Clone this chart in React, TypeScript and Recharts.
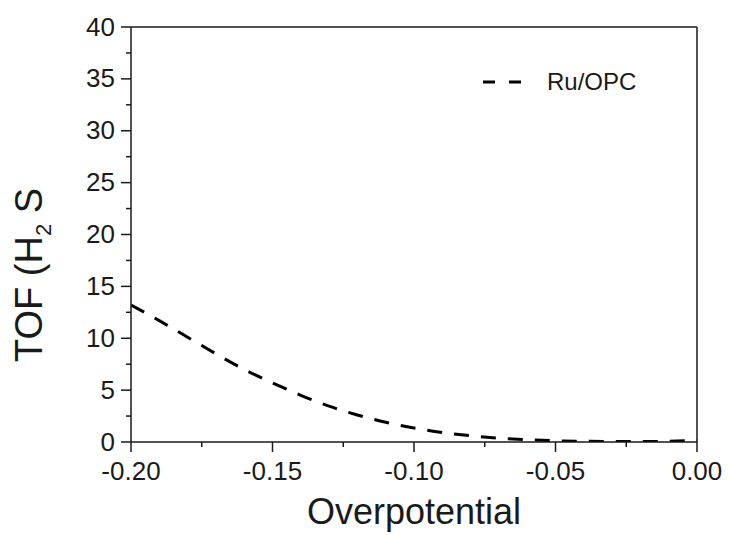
import { LineChart, Line, XAxis, YAxis, Legend, ReferenceLine } from 'recharts';

const FONT = '"Liberation Sans", Arial, sans-serif';
const INK = '#1a1a1a';

// overpotential (V) and TOF
const overpotential = [
  -0.2, -0.19, -0.18, -0.17, -0.16, -0.15, -0.14, -0.13, -0.12, -0.11, -0.1,
  -0.09, -0.08, -0.07, -0.06, -0.05, -0.04, -0.03, -0.02, -0.01, 0,
];
const tofRuOPC = [
  13.2, 11.7, 10.1, 8.5, 7.0, 5.7, 4.5, 3.45, 2.6, 1.9, 1.35,
  0.92, 0.6, 0.37, 0.22, 0.12, 0.07, 0.05, 0.05, 0.07, 0.15,
];

const xTicks = [-0.2, -0.175, -0.15, -0.125, -0.1, -0.075, -0.05, -0.025, 0];
const xLabels = ['-0.20', '', '-0.15', '', '-0.10', '', '-0.05', '', '0.00'];
const yTicks = [0, 2.5, 5, 7.5, 10, 12.5, 15, 17.5, 20, 22.5, 25, 27.5, 30, 32.5, 35, 37.5, 40];
const yLabels = ['0', '', '5', '', '10', '', '15', '', '20', '', '25', '', '30', '', '35', '', '40'];

const data = overpotential.map((x, i) => ({ x, tof: tofRuOPC[i] }));

function XTick(props: any) {
  const { x, y, index } = props;
  const label = xLabels[index];
  const major = label !== '';
  return (
    <g>
      <line x1={x} x2={x} y1={y} y2={y + (major ? 10 : 5)} stroke={INK} strokeWidth={1.5} />
      {major && (
        <text x={x} y={y + 38} textAnchor="middle" fontSize={26} fontFamily={FONT} fill={INK}>
          {label}
        </text>
      )}
    </g>
  );
}

function YTick(props: any) {
  const { x, y, index } = props;
  const label = yLabels[index];
  const major = label !== '';
  return (
    <g>
      <line x1={x - (major ? 10 : 5)} x2={x} y1={y} y2={y} stroke={INK} strokeWidth={1.5} />
      {major && (
        <text x={x - 16} y={y} dy="0.33em" textAnchor="end" fontSize={26} fontFamily={FONT} fill={INK}>
          {label}
        </text>
      )}
    </g>
  );
}

function LegendBox() {
  return (
    <svg width={170} height={36}>
      <line x1={8} x2={56} y1={18} y2={18} stroke="#000" strokeWidth={3} strokeDasharray="12 14" />
      <text x={72} y={18} dy="0.35em" fontSize={24} fontFamily={FONT} fill={INK}>
        Ru/OPC
      </text>
    </svg>
  );
}

export default function App() {
  return (
    <div style={{ position: 'absolute', left: 0, top: 0, background: '#fff' }}>
      <LineChart width={729} height={535} data={data} margin={{ top: 27, right: 32, left: 0, bottom: 0 }}>
        <XAxis
          dataKey="x"
          type="number"
          domain={[-0.2, 0]}
          ticks={xTicks}
          interval={0}
          tickSize={0}
          tickMargin={0}
          tickLine={false}
          tick={<XTick />}
          height={93}
          axisLine={{ stroke: INK, strokeWidth: 1.5 }}
          allowDataOverflow
          label={{
            content: (p: any) => {
              const vb = p.viewBox;
              return (
                <text x={vb.x + vb.width / 2} y={vb.y + 82} textAnchor="middle" fontSize={36} fontFamily={FONT} fill={INK}>
                  Overpotential
                </text>
              );
            },
          }}
        />
        <YAxis
          type="number"
          domain={[0, 40]}
          ticks={yTicks}
          interval={0}
          tickSize={0}
          tickMargin={0}
          tickLine={false}
          tick={<YTick />}
          width={131}
          axisLine={{ stroke: INK, strokeWidth: 1.5 }}
          allowDataOverflow
          label={{
            content: (p: any) => {
              const vb = p.viewBox;
              const tx = vb.x + 42;
              const ty = vb.y + vb.height - 80;
              return (
                <text x={tx} y={ty} transform={`rotate(-90, ${tx}, ${ty})`} fontSize={38} fontFamily={FONT} fill={INK}>
                  TOF (H
                  <tspan fontSize={22} dy={9}>2</tspan>
                  <tspan dy={-9}> S</tspan>
                </text>
              );
            },
          }}
        />
        <ReferenceLine y={40} stroke={INK} strokeWidth={1.5} />
        <ReferenceLine x={0} stroke={INK} strokeWidth={1.5} />
        <Legend
          layout="vertical"
          verticalAlign="middle"
          align="center"
          wrapperStyle={{ top: 64, left: 475, width: 170 }}
          content={() => <LegendBox />}
        />
        <Line
          type="natural"
          dataKey="tof"
          name="Ru/OPC"
          stroke="#000"
          strokeWidth={3}
          strokeDasharray="15 12"
          dot={false}
          isAnimationActive={false}
        />
      </LineChart>
    </div>
  );
}
